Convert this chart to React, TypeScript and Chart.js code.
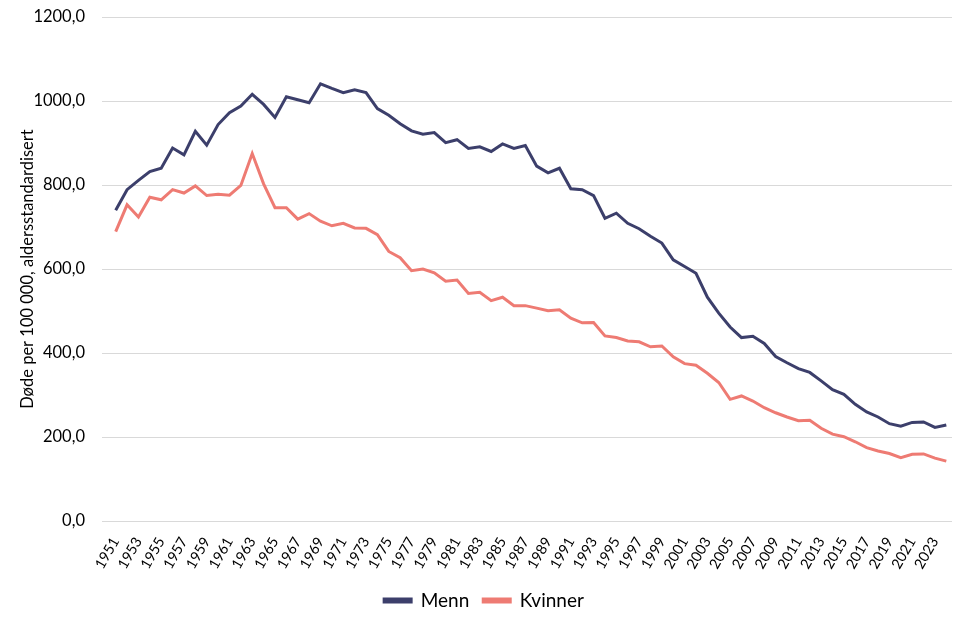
import React, { useEffect, useRef } from "react";
import { Chart, registerables } from "chart.js";

Chart.register(...registerables);

const years: string[] = [];
for (let y = 1951; y <= 2024; y++) years.push(String(y));

const menn = [
  740, 789, 811, 832, 840, 888, 872, 928, 895, 944,
  972, 988, 1016, 992, 961, 1010, 1003, 996, 1041, 1030,
  1020, 1027, 1020, 982, 966, 946, 929, 921, 925, 901,
  908, 887, 891, 880, 898, 887, 894, 845, 829, 840,
  791, 789, 775, 721, 733, 709, 696, 678, 662, 622,
  606, 590, 533, 495, 462, 437, 440, 423, 392, 377,
  363, 354, 334, 313, 302, 278, 260, 248, 232, 226,
  235, 236, 223, 229,
];

const kvinner = [
  689, 753, 724, 771, 765, 789, 781, 798, 775, 778,
  776, 799, 875, 803, 746, 746, 719, 732, 714, 703,
  709, 698, 697, 682, 642, 627, 596, 600, 591, 571,
  574, 542, 545, 525, 533, 513, 513, 507, 501, 503,
  483, 472, 473, 441, 437, 429, 427, 415, 417, 391,
  375, 371, 352, 330, 290, 298, 286, 270, 258, 248,
  239, 240, 221, 207, 201, 189, 175, 167, 161, 151,
  159, 160, 150, 143,
];

const MENN_COLOR = "#3c3f6b";
const KVINNER_COLOR = "#ee7b73";
const FONT = "Lato, 'Open Sans', sans-serif";

export default function App() {
  const ref = useRef<HTMLCanvasElement | null>(null);
  useEffect(() => {
    if (!ref.current) return;
    const chart = new Chart(ref.current, {
      type: "line",
      data: {
        labels: years,
        datasets: [
          {
            label: "Menn",
            data: menn,
            borderColor: MENN_COLOR,
            backgroundColor: MENN_COLOR,
            borderWidth: 3,
            pointRadius: 0,
            tension: 0,
          },
          {
            label: "Kvinner",
            data: kvinner,
            borderColor: KVINNER_COLOR,
            backgroundColor: KVINNER_COLOR,
            borderWidth: 3,
            pointRadius: 0,
            tension: 0,
          },
        ],
      },
      options: {
        animation: false,
        responsive: false,
        maintainAspectRatio: false,
        layout: { padding: { top: 17, right: 18, left: 16, bottom: 4 } },
        plugins: {
          tooltip: { enabled: false },
          legend: {
            position: "bottom",
            labels: {
              boxWidth: 27,
              boxHeight: 3,
              color: "#000",
              font: { family: FONT, size: 19 },
              padding: 14,
            },
          },
        },
        scales: {
          x: {
            offset: true,
            grid: { display: false },
            border: { display: false },
            ticks: {
              autoSkip: false,
              maxRotation: 60,
              minRotation: 60,
              padding: 5,
              color: "#000",
              font: { family: FONT, size: 14.5 },
              callback: (_v: any, i: number) => (i % 2 === 0 ? years[i] : ""),
            },
          },
          y: {
            min: 0,
            max: 1200,
            afterFit: (s: any) => {
              s.width = 94;
              s.paddingTop = 0;
              s.paddingBottom = 0;
            },
            grid: { color: "#d9d9d9", lineWidth: 1 },
            border: { display: false },
            ticks: {
              stepSize: 200,
              color: "#000",
              padding: 17,
              font: { family: FONT, size: 16.5 },
              callback: (v: any) => Number(v).toFixed(1).replace(".", ","),
            },
            title: {
              display: true,
              text: "Døde per 100 000, aldersstandardisert",
              color: "#000",
              font: { family: FONT, size: 16.5 },
              padding: 2,
            },
          },
        },
      },
    });
    return () => chart.destroy();
  }, []);
  return (
    <div style={{ position: "absolute", left: 0, top: 0, width: 970, height: 624, background: "#fff" }}>
      <canvas ref={ref} width={970} height={624} />
    </div>
  );
}
